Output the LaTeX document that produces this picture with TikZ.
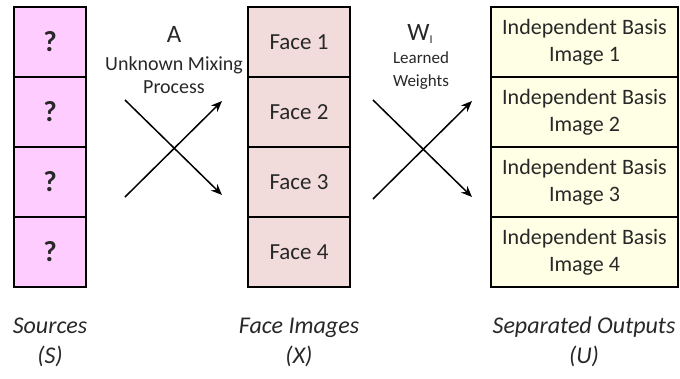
\documentclass[tikz,border=0pt]{standalone}
\usepackage{fontspec}
\setmainfont{Carlito}
\usetikzlibrary{arrows.meta}
\definecolor{srcfill}{RGB}{255,204,255}
\definecolor{facefill}{RGB}{242,220,219}
\definecolor{outfill}{RGB}{255,255,229}
\definecolor{txt}{RGB}{40,40,40}
\tikzset{
  cell/.style={draw=black, line width=1.6pt, minimum height=70pt, inner sep=0pt, text=txt},
  srccell/.style={cell, fill=srcfill, minimum width=72pt, font=\fontsize{29}{32}\selectfont\bfseries},
  facecell/.style={cell, fill=facefill, minimum width=102pt, font=\fontsize{23}{26}\selectfont},
  outcell/.style={cell, fill=outfill, minimum width=187pt, align=center, font=\fontsize{22}{27}\selectfont},
  caption/.style={align=center, font=\fontsize{24}{30}\selectfont\itshape, text=txt},
  mix/.style={line width=1.5pt, -{Stealth[length=11pt,width=9pt]}},
  lbl/.style={align=center, text=txt}
}
\begin{document}
\begin{tikzpicture}[x=1pt,y=-1pt]
\useasboundingbox (0,0) rectangle (680,378);
% sources
\node[srccell] (s1) at (50,42) {?};
\node[srccell] (s2) at (50,112) {?};
\node[srccell] (s3) at (50,182) {?};
\node[srccell] (s4) at (50,252) {?};
% faces
\node[facecell] (f1) at (299,42) {Face 1};
\node[facecell] (f2) at (299,112) {Face 2};
\node[facecell] (f3) at (299,182) {Face 3};
\node[facecell] (f4) at (299,252) {Face 4};
% outputs
\node[outcell] (o1) at (584.5,42) {Independent Basis\\Image 1};
\node[outcell] (o2) at (584.5,112) {Independent Basis\\Image 2};
\node[outcell] (o3) at (584.5,182) {Independent Basis\\Image 3};
\node[outcell] (o4) at (584.5,252) {Independent Basis\\Image 4};
% mixing arrows
\coordinate (a1) at (125,100); \coordinate (a2) at (222,195);
\coordinate (a3) at (125,197); \coordinate (a4) at (222,101);
\draw[mix] (a1) -- (a2);
\draw[mix] (a3) -- (a4);
\coordinate (b1) at (373,100); \coordinate (b2) at (472,197);
\coordinate (b3) at (373,199); \coordinate (b4) at (472,101);
\draw[mix] (b1) -- (b2);
\draw[mix] (b3) -- (b4);
% labels
\node[lbl, font=\fontsize{25}{27}\selectfont] (A) at (174,34) {A};
\node[lbl, font=\fontsize{20}{23}\selectfont] (Al) at (174,75) {Unknown Mixing\\Process};
\node[lbl] (W) at (420,34) {{\fontsize{25}{27}\selectfont W}{\fontsize{12}{14}\selectfont\raisebox{-3pt}{I}}};
\node[lbl, font=\fontsize{17}{23}\selectfont] (Wl) at (421,71) {Learned\\Weights};
% captions
\node[caption] (cs) at (50,342) {Sources\\(S)};
\node[caption] (cx) at (299,342) {Face Images\\(X)};
\node[caption] (cu) at (584,342) {Separated Outputs\\(U)};
\end{tikzpicture}
\end{document}
